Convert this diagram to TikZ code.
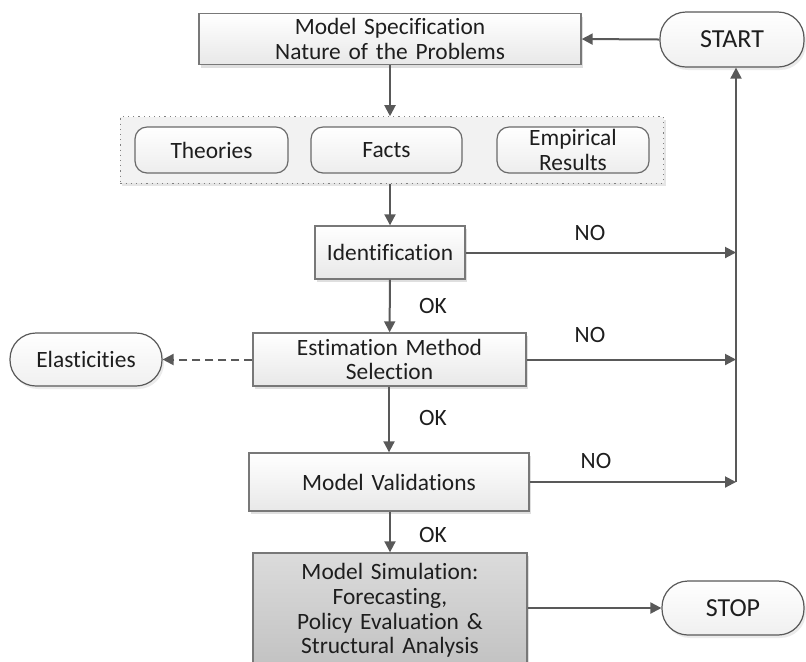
\documentclass[tikz,border=0pt]{standalone}
\usepackage{fontspec}
\setmainfont{Carlito}[Ligatures=NoCommon]
\usetikzlibrary{arrows.meta,positioning,fit,shadows,backgrounds}
\definecolor{linegray}{RGB}{89,89,89}
\definecolor{edgegray}{RGB}{120,120,120}
\definecolor{txtgray}{RGB}{30,30,30}
\tikzset{
  procbox/.style  = {draw=edgegray,line width=0.7pt,top color=white,bottom color=black!9,
                     align=center,inner sep=0pt,text=txtgray,
                     drop shadow={shadow xshift=1pt,shadow yshift=-1.5pt,fill=black!25,opacity=0.5}},
  simbox/.style   = {procbox,top color=black!14,bottom color=black!24},
  grpitem/.style  = {draw=linegray!90,line width=0.6pt,rounded corners=6pt,top color=white,
                     bottom color=black!7,align=center,inner sep=0pt,text=txtgray},
  grpframe/.style = {draw=gray,dotted,line width=0.6pt,fill=black!5,
                     drop shadow={shadow xshift=1pt,shadow yshift=-1.5pt,fill=black!20,opacity=0.5}},
  terminal/.style = {draw=linegray,line width=0.6pt,rounded corners=13pt,top color=white,
                     bottom color=black!6,align=center,inner sep=0pt,text=txtgray,
                     drop shadow={shadow xshift=1pt,shadow yshift=-1.5pt,fill=black!20,opacity=0.4}},
  flow/.style     = {-{Triangle[length=5.5pt,width=5.5pt]},line width=1pt,color=linegray},
  dflow/.style    = {flow,dashed,dash pattern=on 4pt off 2.5pt},
  lbl/.style      = {text=txtgray,inner sep=1pt},
}

\begin{document}
\begin{tikzpicture}[x=0.5pt,y=-0.5pt,font=\fontsize{11.7}{12.3}\selectfont]
  \useasboundingbox (0,0) rectangle (806,661);
  \clip (0,0) rectangle (806,661);

  \node[procbox,text width=191pt,minimum height=25.5pt] (spec) at (390,39)
        {Model Specification\\Nature of the Problems};
  \node[terminal,minimum width=72pt,minimum height=27.5pt] (start) at (732,39.5) {\fontsize{13}{14}\selectfont START};

  % group of inputs
  \node[grpitem,text width=76.5pt,minimum height=23pt] (theo)  at (211.5,150) {Theories};
  \node[grpitem,text width=75.5pt,minimum height=23pt] (facts) at (386.5,150) {Facts};
  \node[grpitem,text width=76pt,minimum height=23pt]   (emp)   at (573,150) {Empirical\\Results};
  \begin{scope}[on background layer]
    \node[grpframe,fit=(theo)(emp),inner xsep=7pt,inner ysep=4.8pt] (grp) {};
  \end{scope}

  \node[procbox,text width=75pt,minimum height=26.5pt]    (ident) at (390,252.5) {Identification};
  \node[procbox,text width=136.5pt,minimum height=26.5pt] (estim) at (389.5,359.5)
        {Estimation Method\\Selection};
  \node[procbox,text width=140pt,minimum height=29pt]     (valid) at (389,482) {Model Validations};
  \node[simbox,text width=137pt,minimum height=57.5pt]    (simul) at (390,610.5)
        {Model Simulation:\\Forecasting,\\Policy Evaluation \&\\Structural Analysis};
  \node[terminal,minimum width=76pt,minimum height=26.5pt] (elast) at (86,359.5) {Elasticities};
  \node[terminal,minimum width=71pt,minimum height=27pt]   (stop)  at (733,608) {\fontsize{13}{14}\selectfont STOP};

  \coordinate (rail) at (736,0);

  \draw[flow] (start.west) -- (spec.east);
  \draw[flow] (spec.south) -- (spec.south |- grp.north);
  \draw[flow] (grp.south -| ident.north) -- (ident.north);
  \draw[flow] (ident) -- (estim);
  \draw[flow] (estim.south -| valid.north) -- (valid.north);
  \draw[flow] (valid.south -| simul.north) -- (simul.north);
  \draw[flow] (simul.east |- stop.west) -- (stop.west);
  \draw[dflow] (estim.west) -- (elast.east);
  \foreach \src in {ident,estim,valid}{
    \draw[flow] (\src.east) -- (\src.east -| rail);
  }
  \draw[flow] (valid.east -| rail) -- (start.south -| rail);

  \node[lbl] (no1) at (590,233) {NO};
  \node[lbl] (no2) at (590,335) {NO};
  \node[lbl] (no3) at (596,461) {NO};
  \node[lbl] (ok1) at (433,306) {OK};
  \node[lbl] (ok2) at (433,418) {OK};
  \node[lbl] (ok3) at (433,535) {OK};
\end{tikzpicture}
\end{document}
